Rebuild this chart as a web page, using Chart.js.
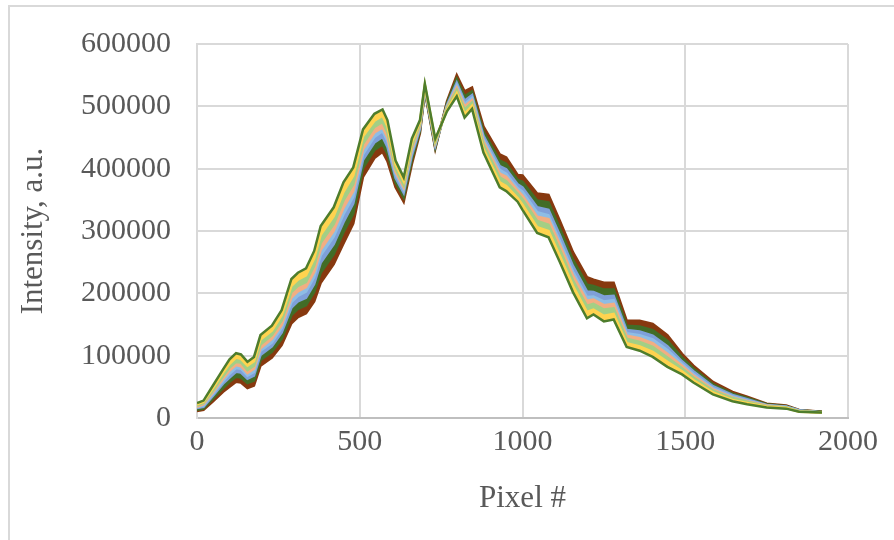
<!DOCTYPE html>
<html>
<head>
<meta charset="utf-8">
<script src="https://cdn.jsdelivr.net/npm/chart.js@4"></script>
<style>
html, body { margin:0; padding:0; background:#fff; }
#wrap { position:relative; width:894px; height:540px; overflow:hidden; }
#frame { position:absolute; left:8px; top:5px; width:900px; height:600px; border:2px solid #d9d9d9; box-sizing:border-box; }
canvas { position:absolute; left:0; top:0; }
</style>
</head>
<body>
<div id="wrap"><div id="frame"></div><canvas id="c" width="894" height="540"></canvas></div>
<script>
// pixel numbers (x), shared by all spectra
const pixels = [0,20,50,80,100,120,135,155,175,195,230,260,290,310,335,360,380,420,450,480,
	510,545,570,585,610,635,660,685,700,732,768,798,822,845,880,930,950,985,1000,1045,
	1080,1115,1155,1198,1218,1250,1280,1320,1360,1400,1445,1490,1525,1585,1645,1690,1750,1810,1850,1920];

// intensity, thousands of a.u.
const darkGreenA = [24,28,53,78,94,104,102,90,98,133,148,173,223,233,240,268,308,338,378,402,
	463,488,495,478,413,386,448,478,536,448,492,516,482,496,426,370,364,347,334,297,
	290,250,202,160,166,155,158,114,108,98,82,70,57,38,27,22,17,15,10,9];
const yellow = [22,26,49,73,87,97,95,84,91,126,140,165,212,222,229,256,294,324,363,389,
	452,477,485,468,407,380,442,475,534,446,494,521,488,501,432,378,372,353,342,306,
	300,260,212,170,174,164,167,120,115,106,90,75,61,41,29,24,18,16,10,9];
const lightGreen = [20,24,45,67,81,90,89,77,84,118,133,156,202,212,218,244,281,311,349,375,
	440,467,475,458,400,374,436,472,533,443,497,526,495,506,439,386,380,360,351,316,
	310,270,221,180,183,174,176,127,122,114,97,80,65,44,32,26,19,17,11,9];
const orange = [18,22,42,63,76,85,83,72,79,112,127,149,193,203,210,234,270,300,337,364,
	431,458,466,450,395,370,431,469,531,441,499,530,500,510,444,392,387,365,357,323,
	319,278,229,188,190,181,183,132,128,120,103,84,68,46,33,27,20,17,11,9];
const lightBlue = [17,20,39,59,71,80,79,68,74,108,121,144,186,196,203,226,261,291,327,355,
	423,451,460,444,391,366,427,467,530,439,500,534,504,514,448,398,392,369,363,330,
	325,284,235,194,195,187,189,136,133,126,109,87,71,48,35,28,20,18,12,9];
const blue = [16,18,36,55,65,74,73,63,68,101,115,137,177,187,193,215,249,279,314,344,
	414,442,451,435,385,361,421,464,528,437,502,538,509,518,453,404,399,375,370,338,
	334,293,244,203,202,195,196,141,139,132,115,91,75,51,37,30,21,18,12,9];
const darkGreenB = [13,15,32,48,58,66,65,56,60,93,106,127,165,175,181,202,233,263,298,328,
	401,430,439,424,378,354,414,461,526,434,505,544,516,524,460,413,408,382,379,349,
	346,304,254,214,212,206,206,148,147,141,124,97,79,54,39,32,22,19,12,10];
const brown = [11,13,27,42,50,58,57,48,52,84,97,117,152,162,168,187,217,247,280,312,
	387,417,427,412,370,347,407,457,524,432,508,550,524,530,468,423,418,390,389,360,
	358,316,266,226,222,217,217,156,156,151,133,103,84,58,42,34,23,20,13,10];

const xTicks = [0, 500, 1000, 1500, 2000];
const yTicks = [0, 100, 200, 300, 400, 500, 600];

const series = [
	{ name: 'A', vals: darkGreenA, color: '#4E7D2C' },
	{ name: 'B', vals: yellow,     color: '#FFD34F' },
	{ name: 'C', vals: lightGreen, color: '#A3CF85' },
	{ name: 'D', vals: orange,     color: '#F2AE82' },
	{ name: 'E', vals: lightBlue,  color: '#8EBDE5' },
	{ name: 'F', vals: blue,       color: '#7FA0D9' },
	{ name: 'G', vals: darkGreenB, color: '#426D27' },
	{ name: 'H', vals: brown,      color: '#87390F' }
];

const FONT = "'Liberation Serif', 'Times New Roman', serif";
const TXT = '#595959';

const datasets = series.map(function(s, i){
	return {
		label: s.name,
		data: pixels.map(function(x, j){ return { x: x, y: s.vals[j] }; }),
		borderColor: s.color,
		backgroundColor: s.color,
		borderWidth: 2.5,
		pointRadius: 0,
		tension: 0,
		fill: i === 0 ? false : '-1' // полоса до предыдущего спектра
	};
});

new Chart(document.getElementById('c'), {
	type: 'line',
	data: { datasets: datasets },
	options: {
		responsive: false,
		animation: false,
		events: [],
		layout: { padding: { left: 8, right: 46, top: 35, bottom: 18 } },
		plugins: { legend: { display: false }, tooltip: { enabled: false } },
		scales: {
			x: {
				type: 'linear', min: 0, max: 2000,
				afterBuildTicks: function(sc){ sc.ticks = xTicks.map(function(v){ return { value: v }; }); },
				afterFit: function(sc){ sc.height = 104; },
				ticks: { color: TXT, font: { family: FONT, size: 30 }, padding: 6,
					callback: function(v){ return String(v); } },
				grid: { color: '#d9d9d9', lineWidth: 2, drawTicks: false },
				border: { color: '#bfbfbf', width: 2 },
				title: { display: true, text: 'Pixel #', color: TXT, font: { family: FONT, size: 31 }, padding: { top: 0, bottom: 5 } }
			},
			y: {
				min: 0, max: 600,
				afterBuildTicks: function(sc){ sc.ticks = yTicks.map(function(v){ return { value: v }; }); },
				afterFit: function(sc){ sc.width = 189; },
				ticks: { color: TXT, font: { family: FONT, size: 30 }, padding: 26,
					callback: function(v){ return String(v * 1000); } },
				grid: { color: '#d9d9d9', lineWidth: 2, drawTicks: false },
				border: { color: '#d9d9d9', width: 2 },
				title: { display: true, text: 'Intensity, a.u.', color: TXT, font: { family: FONT, size: 31 }, padding: { top: 7, bottom: 0 } }
			}
		}
	}
});
</script>
</body>
</html>
